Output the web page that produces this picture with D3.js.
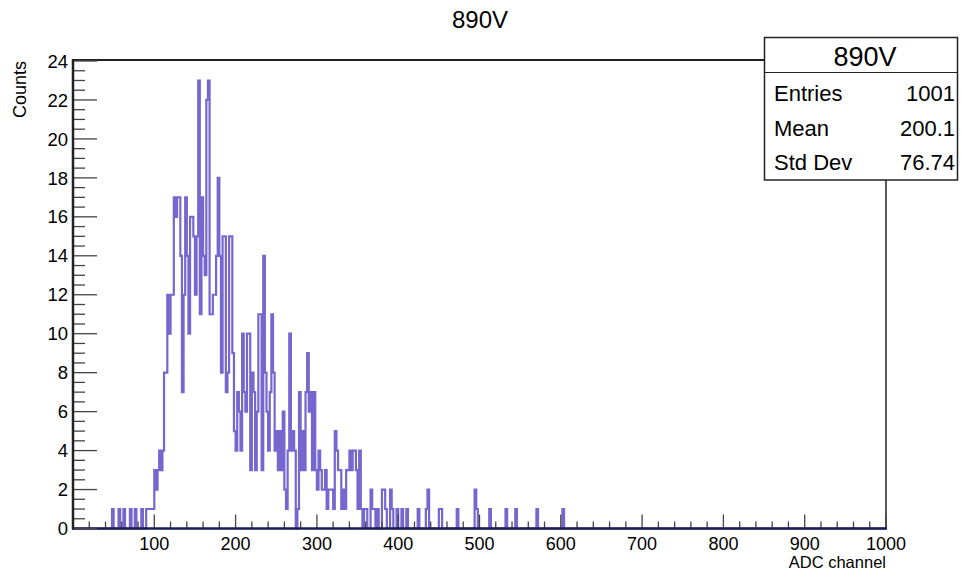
<!DOCTYPE html>
<html>
<head>
<meta charset="utf-8">
<script src="https://cdn.jsdelivr.net/npm/d3@7"></script>
<style>
  body { margin: 0; background: #fff; }
  svg { display: block; font-family: "Liberation Sans", Arial, Helvetica, sans-serif; }
</style>
</head>
<body>
<svg id="chart" width="961" height="572"></svg>
<script>
// histogram: 500 bins of width 2 over 0..1000, only non-empty bins listed
const binWidth = 2;
const nBins = 500;
const channels = [
  48, 56, 62, 70, 76, 84, 90, 92, 94, 96, 98,
  100, 102, 104, 106, 108, 110,
  112, 114, 116, 118, 120, 122,
  124, 126, 128, 130, 132, 134, 136, 138, 140, 142,
  144, 146, 148, 150, 152, 154, 156, 158, 160, 162,
  164, 166, 168, 170, 172, 174, 176, 178, 180, 182,
  184, 186, 188, 190, 192, 194, 196, 198,
  200, 202, 204, 206, 208, 210, 212, 214, 216, 218,
  220, 222, 224, 226, 228, 230, 232, 234, 236, 238,
  240, 242, 244, 246, 248, 250, 252, 254, 256, 258,
  260, 262, 264, 266, 268, 270, 272, 276, 278,
  280, 282, 284, 286, 288, 290, 292, 294, 296, 298,
  300, 302, 304, 306, 308, 310, 312, 314, 316, 318,
  320, 322, 324, 326, 328, 330, 332, 334, 336, 338,
  340, 342, 344, 346, 348, 350, 352, 354, 358,
  360, 366, 368, 370, 374, 380, 382, 384, 390, 392, 398,
  404, 410, 424, 434, 436, 450, 452, 472, 494, 496, 512, 532, 544, 570, 602
];
const counts = [
  1, 1, 1, 1, 1, 1, 1, 1, 1, 1, 1,
  3, 2, 3, 4, 3, 4,
  8, 8, 12, 10, 12, 12,
  17, 16, 17, 17, 14, 7, 12, 17, 14, 10,
  16, 16, 15, 12, 15, 23, 11, 17, 14, 13,
  22, 23, 11, 11, 12, 12, 14, 18, 14, 8,
  15, 15, 7, 8, 15, 15, 9, 5,
  4, 7, 6, 4, 10, 7, 6, 10, 10, 3,
  8, 7, 3, 6, 11, 11, 3, 14, 8, 6,
  4, 7, 11, 8, 4, 5, 3, 5, 3, 6,
  2, 1, 4, 10, 4, 5, 4, 1, 7,
  3, 5, 3, 7, 9, 6, 7, 3, 7, 3,
  2, 4, 3, 2, 2, 3, 1, 2, 2, 2,
  1, 5, 4, 3, 3, 1, 2, 1, 3, 3,
  4, 3, 4, 4, 3, 1, 4, 1, 1,
  1, 2, 1, 1, 1, 2, 2, 1, 2, 1, 1,
  1, 1, 1, 1, 2, 1, 1, 1, 2, 1, 1, 1, 1, 1, 1
];

const histTitle = "890V";
const xTitle = "ADC channel";
const yTitle = "Counts";
const statLabels = ["Entries", "Mean", "Std Dev"];
const statValues = ["1001", "200.1", "76.74"];
const xTickValues = [100, 200, 300, 400, 500, 600, 700, 800, 900, 1000];
const yTickValues = [0, 2, 4, 6, 8, 10, 12, 14, 16, 18, 20, 22, 24];

const svg = d3.select("#chart");
const axisColor = "#222";
const tickColor = "#444";
const histColor = "#5441c4";

const x = d3.scaleLinear().domain([0, 1000]).range([73, 886]);
const y = d3.scaleLinear().domain([0, 24]).range([528.5, 61]);

// full bin array
const full = new Array(nBins).fill(0);
channels.forEach((c, i) => { full[Math.round(c / binWidth)] = counts[i]; });
const steps = full.map((v, i) => ({ lo: i * binWidth, v }));
steps.push({ lo: nBins * binWidth, v: full[nBins - 1] });

// title
svg.append("text")
  .attr("x", 480).attr("y", 28)
  .attr("text-anchor", "middle")
  .attr("font-size", 24)
  .text(histTitle);

// histogram step line
const line = d3.line()
  .x(d => x(d.lo))
  .y(d => y(d.v))
  .curve(d3.curveStepAfter);

svg.append("path")
  .datum(steps)
  .attr("fill", "none")
  .attr("stroke", histColor)
  .attr("stroke-width", 2.2)
  .attr("stroke-opacity", 0.8)
  .attr("d", line);

// frame
svg.append("line")
  .attr("x1", x(0)).attr("x2", 764).attr("y1", 60).attr("y2", 60)
  .attr("stroke", axisColor).attr("stroke-width", 2);
svg.append("line")
  .attr("x1", 886).attr("x2", 886).attr("y1", 60).attr("y2", 528.5)
  .attr("stroke", axisColor).attr("stroke-width", 1.5);

// x axis
const xMinor = d3.range(20, 1000, 20).filter(v => v % 100 !== 0);
svg.append("g").selectAll("line")
  .data(xMinor).enter().append("line")
  .attr("x1", d => x(d)).attr("x2", d => x(d))
  .attr("y1", 528.5).attr("y2", 521.5)
  .attr("stroke", tickColor).attr("stroke-width", 1.3);
svg.append("g").selectAll("line")
  .data(xTickValues).enter().append("line")
  .attr("x1", d => x(d)).attr("x2", d => x(d))
  .attr("y1", 528.5).attr("y2", 514.5)
  .attr("stroke", tickColor).attr("stroke-width", 1.3);
svg.append("g").selectAll("text")
  .data(xTickValues).enter().append("text")
  .attr("x", d => x(d)).attr("y", 550)
  .attr("text-anchor", "middle")
  .attr("font-size", 18)
  .text(d => d);
svg.append("line")
  .attr("x1", x(0) - 1).attr("x2", 887).attr("y1", 528.5).attr("y2", 528.5)
  .attr("stroke", "#1a1a55").attr("stroke-width", 2.5);
svg.append("text")
  .attr("x", 886).attr("y", 568)
  .attr("text-anchor", "end")
  .attr("font-size", 16.5)
  .text(xTitle);

// y axis
const yMinor = d3.range(0.5, 24, 0.5).filter(v => v % 2 !== 0);
svg.append("g").selectAll("line")
  .data(yMinor).enter().append("line")
  .attr("x1", x(0)).attr("x2", x(0) + 12)
  .attr("y1", d => y(d)).attr("y2", d => y(d))
  .attr("stroke", tickColor).attr("stroke-width", 1.3);
svg.append("g").selectAll("line")
  .data(yTickValues).enter().append("line")
  .attr("x1", x(0)).attr("x2", x(0) + 24)
  .attr("y1", d => y(d)).attr("y2", d => y(d))
  .attr("stroke", tickColor).attr("stroke-width", 1.3);
svg.append("g").selectAll("text")
  .data(yTickValues).enter().append("text")
  .attr("x", 68).attr("y", d => y(d))
  .attr("dy", "0.36em")
  .attr("text-anchor", "end")
  .attr("font-size", 18.5)
  .text(d => d);
svg.append("line")
  .attr("x1", x(0)).attr("x2", x(0)).attr("y1", 59).attr("y2", 529.5)
  .attr("stroke", axisColor).attr("stroke-width", 2.5);
svg.append("text")
  .attr("transform", "translate(26,61) rotate(-90)")
  .attr("text-anchor", "end")
  .attr("font-size", 18)
  .text(yTitle);

// stats box
const box = svg.append("g");
box.append("rect")
  .attr("x", 764.5).attr("y", 37.5).attr("width", 193).attr("height", 142.5)
  .attr("fill", "#fff").attr("stroke", axisColor).attr("stroke-width", 1.5);
box.append("line")
  .attr("x1", 764.5).attr("x2", 957.5).attr("y1", 72.5).attr("y2", 72.5)
  .attr("stroke", axisColor).attr("stroke-width", 1.2);
box.append("text")
  .attr("x", 865).attr("y", 66)
  .attr("text-anchor", "middle")
  .attr("font-size", 27)
  .text(histTitle);
statLabels.forEach((lab, i) => {
  const yy = 101 + i * 34.5;
  box.append("text").attr("x", 774).attr("y", yy).attr("font-size", 22).text(lab);
  box.append("text").attr("x", 955).attr("y", yy).attr("text-anchor", "end")
    .attr("font-size", 22).text(statValues[i]);
});
</script>
</body>
</html>
